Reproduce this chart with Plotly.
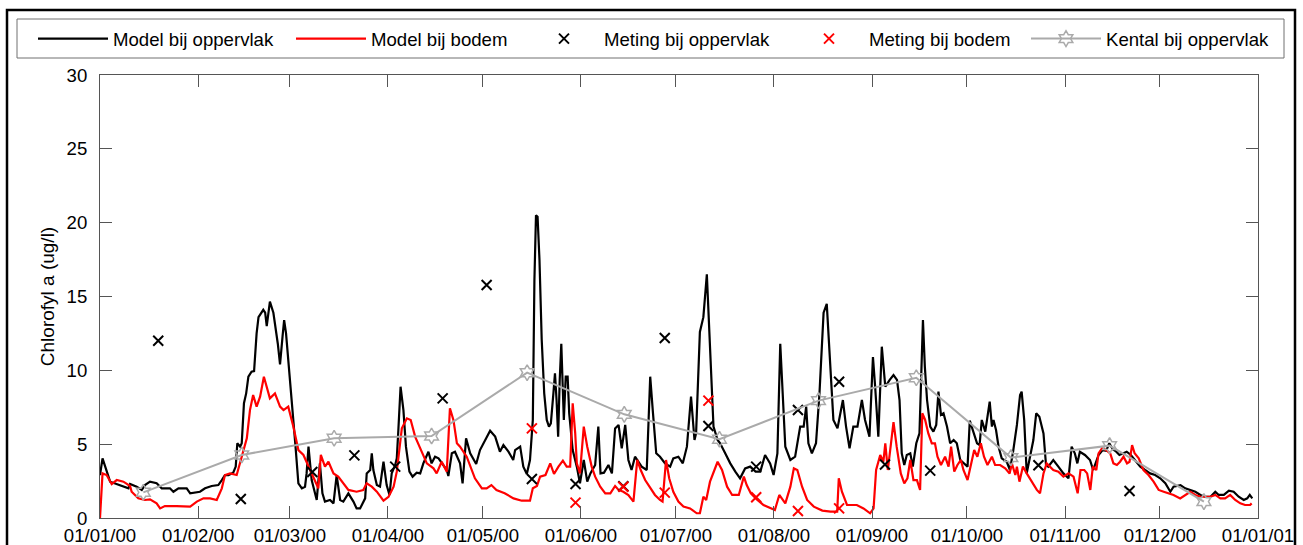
import pandas as pd
import plotly.graph_objects as go

START = pd.Timestamp("2000-01-01")

# Model bij oppervlak (day offset from 01/01/00, ug/l)
surf_day = [0, 0.8, 3.2, 5.3, 7.4, 9.0, 9.5, 11.6, 13.2, 14.2, 15.8, 17.9, 19.5, 22.1, 23.2, 24.8, 27.4, 28.5,
            31.6, 33.2, 35.3, 37.4, 38.5, 39.5, 40.6, 42.1, 42.9, 43.4, 44.3, 44.8, 45.5, 46.2, 46.9, 47.9,
            48.7, 49.5, 50.1, 51.1, 51.6, 52.2, 52.7, 53.7, 54.8, 56.2, 56.9, 57.7, 58.2, 58.8, 59.7, 61.1,
            61.8, 62.7, 63.8, 64.8, 65.3, 65.9, 66.9, 68.5, 69.5, 70.3, 71.1, 72.7, 73.8, 74.8, 75.9, 76.9,
            78.5, 80.1, 81.1, 82.2, 83.8, 84.3, 85.4, 85.9, 86.4, 87.5, 88.5, 89.6, 90.6, 91.5, 92.2, 93.3,
            93.8, 94.3, 95.0, 95.9, 96.7, 97.8, 98.8, 100.1, 101.2, 102.2, 103.8, 104.8, 105.9, 107.0, 108.5,
            109.6, 110.1, 111.2, 112.2, 113.8, 114.6, 115.7, 117.0, 118.0, 118.9, 120.1, 121.2, 123.3, 124.9,
            126.4, 127.5, 129.1, 130.6, 131.2, 132.8, 133.8, 134.9, 135.9, 136.8, 137.3, 137.8, 138.3, 138.9,
            139.6, 140.4, 141.2, 141.9, 142.5, 143.3, 143.8, 144.3, 144.8, 145.3, 145.8, 146.6, 147.2, 147.8,
            148.3, 149.4, 150.7, 151.7, 152.9, 154.0, 155.0, 156.5, 157.5, 158.2, 159.3, 160.7, 161.8, 162.8,
            163.9, 164.9, 166.0, 167.0, 168.0, 169.1, 170.2, 171.2, 172.8, 173.9, 174.7, 175.8, 177.0, 178.6,
            180.2, 181.2, 182.8, 184.2, 185.5, 186.8, 187.9, 188.4, 189.6, 190.7, 191.8, 192.6, 193.9, 195.2,
            196.0, 197.6, 199.2, 200.8, 202.3, 203.9, 205.5, 207.2, 208.7, 210.2, 211.8, 212.9, 214.1, 215.0,
            215.8, 216.6, 218.2, 219.7, 221.3, 222.4, 223.2, 223.9, 225.0, 226.3, 227.4, 228.7, 229.7, 230.6,
            231.8, 233.1, 234.8, 235.8, 236.9, 238.1, 239.4, 240.8, 241.8, 243.2, 244.3, 245.0, 246.0, 247.1,
            248.2, 249.6, 250.8, 251.9, 252.7, 253.4, 254.2, 255.0, 256.1, 256.9, 258.0, 259.0, 259.7, 260.1,
            260.7, 261.4, 262.4, 263.4, 264.3, 265.0, 265.8, 266.6, 267.7, 268.7, 269.8, 270.8, 271.9, 273.5,
            274.2, 274.9, 275.9, 277.2, 278.0, 278.7, 279.8, 280.5, 281.2, 281.9, 282.4, 283.2, 284.0, 285.0,
            286.6, 287.6, 288.6, 289.8, 290.8, 291.3, 292.1, 292.9, 294.0, 295.0, 295.9, 296.9, 298.2, 299.0,
            299.7, 301.3, 302.9, 304.5, 306.1, 307.1, 308.1, 308.9, 309.7, 311.3, 312.9, 313.9, 315.6, 316.9,
            318.0, 319.0, 320.1, 321.2, 322.2, 323.5, 324.5, 325.8, 327.2, 328.8, 330.3, 331.9, 333.5, 335.1,
            336.7, 338.3, 339.3, 341.5, 343.0, 344.6, 346.2, 347.8, 349.4, 351.0, 352.5, 353.6, 355.2, 356.8,
            358.3, 359.9, 361.5, 362.6, 363.4, 364.2]
surf_val = [2.9, 4.04, 2.46, 2.30, 2.12, 2.01, 2.30, 2.12, 1.90, 2.23, 2.46, 2.35, 2.01, 2.01, 1.78, 2.01, 2.01, 1.67,
            1.78, 2.01, 2.17, 2.23, 2.57, 2.91, 2.91, 3.07, 3.48, 5.06, 4.83, 5.06, 7.77, 8.44, 9.57, 9.91,
            9.95, 12.5, 13.6, 14.0, 14.1, 13.9, 13.0, 14.65, 13.9, 11.8, 10.4, 12.3, 13.4, 12.5, 10.2, 7.09,
            4.83, 2.35, 2.01, 2.12, 3.02, 4.83, 2.57, 1.22, 3.70, 1.67, 1.11, 1.22, 0.99, 2.91, 1.22, 1.11,
            1.67, 1.11, 0.65, 0.65, 1.33, 3.02, 3.25, 4.38, 3.25, 2.23, 2.12, 3.81, 2.23, 1.56, 3.02, 3.59,
            4.04, 5.96, 8.89, 7.31, 4.83, 3.14, 2.80, 3.07, 3.02, 3.70, 4.49, 3.70, 4.15, 4.04, 3.59,
            3.25, 2.84, 4.38, 4.49, 3.70, 2.35, 5.40, 4.38, 4.04, 3.66, 4.60, 5.06, 5.91, 5.51,
            4.49, 4.94, 4.49, 3.93, 4.60, 4.83, 3.48, 2.98, 3.93, 6.64, 16.1, 20.5, 20.4, 17.5,
            12.1, 8.44, 6.64, 6.19, 6.41, 8.44, 9.80, 7.99, 5.51, 9.35, 11.8, 6.64, 9.57, 9.57,
            7.09, 4.60, 3.48, 2.35, 3.93, 2.46, 3.02, 3.59, 6.19, 3.02, 3.07, 3.59, 3.02, 6.07,
            6.30, 4.72, 6.30, 3.93, 3.25, 4.15, 3.81, 3.48, 3.25, 9.57, 7.31, 4.38, 4.15, 3.70,
            3.48, 4.04, 4.15, 3.70, 4.83, 8.22, 5.28, 5.73, 12.6, 13.6, 16.5, 12.7, 6.19, 5.28,
            5.06, 4.38, 3.70, 3.14, 2.69, 3.36, 3.48, 3.14, 3.14, 4.27, 3.70, 2.91, 4.38, 11.8,
            8.44, 4.83, 3.93, 4.15, 6.19, 6.19, 7.54, 5.06, 4.38, 5.06, 8.44, 13.9, 14.5, 10.9,
            6.64, 6.07, 7.99, 6.19, 4.72, 6.19, 6.19, 7.99, 6.64, 5.51, 10.9, 8.89, 5.51, 11.6,
            8.89, 9.35, 9.68, 9.35, 7.99, 4.38, 3.59, 4.27, 4.38, 3.48, 5.06, 5.73, 10.25, 13.4,
            10.25, 7.99, 6.19, 5.85, 6.30, 8.56, 6.98, 7.09, 6.19, 5.06, 5.28, 5.06, 3.93, 3.59,
            3.48, 6.59, 5.96, 5.06, 4.94, 6.64, 5.85, 6.98, 7.88, 6.19, 6.64, 5.96, 4.83, 4.04,
            3.81, 3.25, 4.49, 6.30, 8.33, 8.56, 6.64, 3.02, 4.15, 5.28, 7.09, 6.86, 5.73, 3.59,
            3.48, 3.93, 3.48, 3.02, 2.69, 4.83, 4.38, 3.70, 4.49, 4.27, 3.93, 3.25, 4.27, 4.60,
            4.55, 5.06, 4.65, 4.49, 4.27, 4.38, 4.49, 4.27, 3.93, 3.48, 3.25, 3.02, 2.91, 2.69,
            2.35, 1.78, 2.12, 2.23, 2.01, 1.90, 1.78, 1.56, 1.44, 1.44, 1.78, 1.56, 1.56, 1.85,
            1.78, 1.44, 1.22, 1.33, 1.56, 1.33]

# Model bij bodem
bot_day = [0, 0.8, 2.1, 3.7, 5.3, 7.4, 9.5, 10.0, 12.1, 14.2, 15.8, 17.9, 19.0, 20.5, 24.2, 27.4, 28.5, 30.6,
           32.7, 34.8, 36.9, 38.5, 39.5, 41.1, 43.2, 44.8, 46.4, 47.4, 48.4, 49.5, 50.6, 51.8, 52.7, 53.7,
           55.3, 56.9, 58.0, 59.5, 61.1, 62.7, 64.3, 66.4, 68.0, 69.0, 69.8, 71.1, 72.2, 73.8, 75.3, 76.9,
           78.5, 81.1, 83.2, 84.3, 85.9, 87.5, 89.6, 91.2, 92.8, 93.8, 95.4, 97.0, 98.2, 99.6, 101.2, 103.3,
           105.4, 106.4, 108.0, 109.6, 110.6, 111.7, 112.8, 113.8, 115.9, 118.5, 120.7, 122.2, 123.7, 125.3,
           127.9, 130.7, 133.3, 135.9, 136.8, 138.1, 139.1, 140.8, 142.3, 143.5, 144.9, 146.3, 147.5, 148.6,
           149.4, 150.2, 150.7, 151.7, 152.9, 154.0, 155.4, 156.5, 158.1, 159.7, 161.3, 162.8, 163.9, 165.4,
           167.0, 168.6, 169.8, 170.9, 172.3, 173.9, 175.4, 177.0, 177.8, 178.9, 179.9, 181.2, 182.8, 184.4,
           186.5, 188.6, 189.6, 190.7, 191.6, 192.8, 195.2, 196.6, 198.2, 199.8, 201.9, 203.5, 204.4, 205.7,
           207.6, 209.7, 211.8, 213.3, 214.7, 215.5, 216.6, 218.2, 219.3, 220.4, 221.9, 223.5, 225.6, 228.3,
           230.9, 233.0, 233.5, 234.5, 236.1, 239.2, 241.3, 243.4, 244.5, 245.3, 246.6, 247.6, 248.2, 249.0,
           249.9, 250.8, 251.8, 253.1, 254.2, 255.2, 256.1, 257.1, 258.2, 259.2, 259.9, 260.8, 261.8, 262.9,
           263.9, 264.7, 265.8, 267.1, 268.2, 269.0, 270.0, 271.0, 272.1, 272.9, 274.2, 275.3, 276.3, 277.3,
           278.4, 279.4, 280.5, 281.9, 282.9, 284.5, 286.1, 287.5, 288.2, 289.3, 289.8, 290.6, 291.7, 292.9,
           294.5, 296.1, 297.1, 298.2, 299.2, 300.3, 301.3, 302.9, 304.5, 306.1, 307.7, 309.0, 309.9, 311.1,
           312.0, 313.0, 313.8, 314.9, 315.6, 316.7, 318.0, 319.3, 320.3, 321.4, 322.4, 323.5, 324.6, 325.4,
           326.2, 327.0, 328.3, 329.8, 331.4, 333.0, 334.6, 336.2, 337.7, 339.3, 341.4, 343.0, 344.6, 346.2,
           347.8, 349.4, 351.0, 352.5, 354.1, 355.6, 357.2, 358.8, 360.4, 361.9, 363.5, 364.0]
bot_val = [0.0, 3.02, 2.91, 2.30, 2.57, 2.46, 2.17, 1.78, 1.33, 1.22, 1.26, 0.99, 0.65, 0.81, 0.81, 0.77, 0.77, 1.11,
           1.33, 1.33, 1.22, 2.01, 2.91, 3.02, 2.91, 4.15, 5.40, 7.31, 8.33, 7.54, 8.22, 9.57, 8.78, 8.10,
           8.44, 7.54, 7.31, 7.54, 6.19, 4.60, 4.27, 3.25, 2.46, 2.01, 4.27, 3.48, 3.81, 3.02, 2.80, 2.35,
           1.90, 1.78, 1.90, 2.35, 2.12, 1.78, 1.17, 1.44, 2.12, 3.14, 6.07, 6.75, 6.64, 5.51, 4.72, 3.70,
           3.36, 3.02, 3.81, 3.14, 7.43, 6.64, 5.06, 4.83, 4.15, 2.69, 2.01, 2.01, 2.23, 1.90,
           1.67, 1.33, 1.17, 1.17, 2.01, 2.17, 2.80, 2.91, 3.70, 2.98, 3.48, 3.88, 3.48, 3.48,
           7.77, 5.73, 3.70, 3.02, 6.19, 4.83, 3.48, 2.80, 2.12, 1.67, 1.67, 2.17, 1.90, 1.78,
           1.56, 1.11, 3.93, 3.25, 2.57, 2.01, 1.56, 1.22, 1.11, 3.93, 2.69, 1.78, 1.11, 0.77,
           0.65, 0.32, 0.32, 1.44, 1.22, 2.46, 3.81, 3.25, 2.12, 1.56, 1.56, 2.80, 2.23, 1.67,
           1.26, 0.88, 0.65, 0.54, 1.56, 1.33, 0.99, 2.12, 3.36, 3.25, 2.12, 1.22, 0.77, 0.50,
           0.43, 0.43, 2.69, 1.78, 0.88, 0.88, 0.65, 0.32, 0.65, 3.25, 4.27, 3.81, 5.06, 3.25,
           5.06, 6.50, 4.83, 3.02, 2.35, 2.69, 3.93, 2.57, 2.57, 1.90, 7.09, 6.64, 5.73, 5.06,
           5.06, 4.15, 3.59, 4.15, 3.48, 4.83, 3.14, 3.59, 3.93, 3.25, 2.57, 3.70, 4.60, 4.15,
           5.06, 4.15, 3.59, 4.15, 3.59, 3.59, 3.36, 3.02, 3.70, 2.91, 3.48, 2.46, 3.48, 3.02,
           2.46, 1.90, 1.67, 3.02, 3.70, 3.48, 3.25, 3.14, 2.80, 3.02, 2.80, 1.67, 3.25, 3.25,
           3.02, 1.90, 3.48, 3.25, 4.38, 4.72, 4.60, 4.38, 3.70, 3.59, 3.81, 4.15, 3.70, 3.81,
           4.94, 4.38, 4.04, 3.25, 2.91, 2.46, 1.90, 1.78, 1.67, 1.56, 1.33, 1.56, 1.78, 1.56,
           1.44, 1.44, 1.44, 1.56, 1.33, 1.33, 1.56, 1.22, 0.99, 0.88, 0.88, 0.99]

# Meting bij oppervlak
meas_surf_day = [18.4, 44.5, 67.1, 80.4, 93.3, 108.3, 122.2, 136.5, 150.3, 165.4, 178.5, 192.3, 207.4,
                 220.6, 233.6, 248.1, 262.4, 296.6, 325.4]
meas_surf_val = [12.0, 1.29, 3.12, 4.24, 3.48, 8.10, 15.78, 2.64, 2.30, 2.15, 12.19, 6.23, 3.48,
                 7.31, 9.23, 3.62, 3.21, 3.57, 1.83]

# Meting bij bodem
meas_bot_day = [136.5, 150.3, 165.4, 178.5, 192.3, 207.4, 220.6, 233.6]
meas_bot_val = [6.07, 1.04, 2.12, 1.72, 7.95, 1.40, 0.47, 0.65]

# Kental bij oppervlak
kent_day = [13.7, 44.8, 74.0, 104.8, 135.0, 165.7, 195.8, 227.1, 258.0, 287.9, 319.1, 348.9]
kent_val = [1.74, 4.27, 5.40, 5.55, 9.84, 7.02, 5.33, 7.95, 9.50, 4.09, 4.90, 1.11]


def to_dates(days):
    return START + pd.to_timedelta(days, unit="D")


FONT = "Liberation Sans, Arial, sans-serif"
FS = 18.6

fig = go.Figure()
fig.add_trace(go.Scatter(x=to_dates(surf_day), y=surf_val, mode="lines", name="Model bij oppervlak",
                         line=dict(color="black", width=2.2), legendwidth=173))
fig.add_trace(go.Scatter(x=to_dates(bot_day), y=bot_val, mode="lines", name="Model bij bodem",
                         line=dict(color="#ff0000", width=2.2), legendwidth=148))
fig.add_trace(go.Scatter(x=to_dates(meas_surf_day), y=meas_surf_val, mode="markers", name="Meting bij oppervlak",
                         marker=dict(symbol="x-thin", size=10, line=dict(color="black", width=2)),
                         legendwidth=180))
fig.add_trace(go.Scatter(x=to_dates(meas_bot_day), y=meas_bot_val, mode="markers", name="Meting bij bodem",
                         marker=dict(symbol="x-thin", size=10, line=dict(color="#ff0000", width=2)),
                         legendwidth=152))
fig.add_trace(go.Scatter(x=to_dates(kent_day), y=kent_val, mode="lines+markers", name="Kental bij oppervlak",
                         line=dict(color="#aaaaaa", width=2),
                         marker=dict(symbol="hexagram-open", size=12, color="#aaaaaa",
                                     line=dict(color="#aaaaaa", width=1.5)),
                         legendwidth=168))

W, H = 1303, 545
L, R, T, B = 100, 45, 75, 27
pw, ph = W - L - R, H - T - B


def px(x):
    return (x - L) / pw


def py(y):
    return (H - B - y) / ph


fig.update_layout(
    width=W, height=H,
    margin=dict(l=L, r=R, t=T, b=B),
    paper_bgcolor="white", plot_bgcolor="white",
    font=dict(family=FONT, size=FS, color="black"),
    showlegend=True,
    legend=dict(orientation="h", x=px(33), y=py(39), xanchor="left", yanchor="middle",
                borderwidth=0, bgcolor="rgba(0,0,0,0)",
                itemwidth=70, font=dict(family=FONT, size=FS), tracegroupgap=0),
    shapes=[
        dict(type="rect", xref="paper", yref="paper", x0=px(7), x1=px(1295), y0=py(560), y1=py(10),
             line=dict(color="black", width=2.5), layer="below"),
        dict(type="rect", xref="paper", yref="paper", x0=px(17), x1=px(1284), y0=py(58), y1=py(19),
             line=dict(color="#707070", width=1), fillcolor="white", layer="below"),
    ],
)

fig.update_xaxes(type="date", range=[START, pd.Timestamp("2001-01-01")],
                 tick0="2000-01-01", dtick="M1", tickformat="%d/%m/%y",
                 ticks="inside", ticklen=12, tickcolor="#555555", tickwidth=1,
                 showline=True, linecolor="#555555", linewidth=1, mirror="ticks",
                 showgrid=False, zeroline=False, tickfont=dict(size=FS), automargin=False,
                 ticklabelstandoff=1)
fig.update_yaxes(range=[0, 30], dtick=5, tick0=0,
                 ticks="inside", ticklen=12, tickcolor="#555555", tickwidth=1,
                 showline=True, linecolor="#555555", linewidth=1, mirror="ticks",
                 showgrid=False, zeroline=False, tickfont=dict(size=FS), ticklabelstandoff=8,
                 automargin=False,
                 title=dict(text="Chlorofyl a (ug/l)", font=dict(size=19), standoff=6))

fig.write_html("out.html")
